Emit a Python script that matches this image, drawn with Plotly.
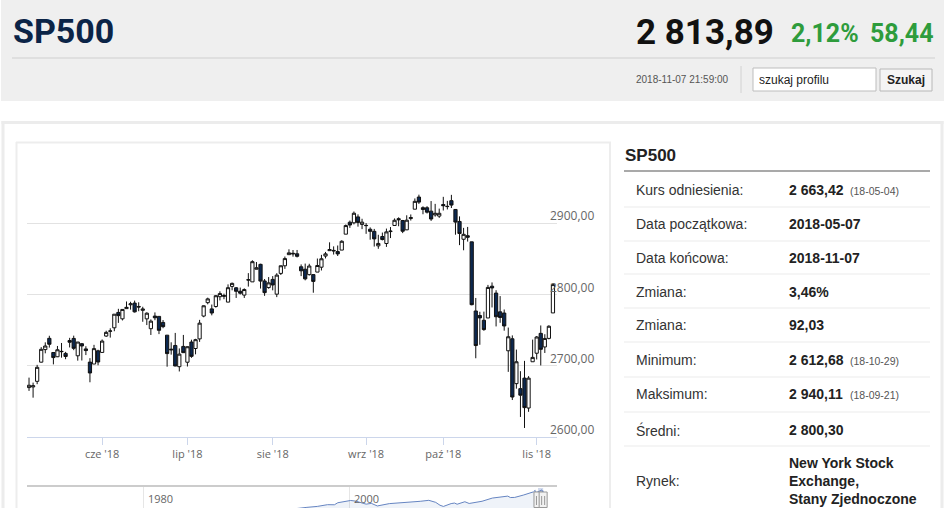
import plotly.graph_objects as go

W, H = 945, 508

# ---------------- data ----------------
dates = [
    "2018-05-07", "2018-05-08", "2018-05-09", "2018-05-10", "2018-05-11",
    "2018-05-14", "2018-05-15", "2018-05-16", "2018-05-17", "2018-05-18",
    "2018-05-21", "2018-05-22", "2018-05-23", "2018-05-24", "2018-05-25",
    "2018-05-29", "2018-05-30", "2018-05-31",
    "2018-06-01", "2018-06-04", "2018-06-05", "2018-06-06", "2018-06-07",
    "2018-06-08", "2018-06-11", "2018-06-12", "2018-06-13", "2018-06-14",
    "2018-06-15", "2018-06-18", "2018-06-19", "2018-06-20", "2018-06-21",
    "2018-06-22", "2018-06-25", "2018-06-26", "2018-06-27", "2018-06-28",
    "2018-06-29",
    "2018-07-02", "2018-07-03", "2018-07-05", "2018-07-06", "2018-07-09",
    "2018-07-10", "2018-07-11", "2018-07-12", "2018-07-13", "2018-07-16",
    "2018-07-17", "2018-07-18", "2018-07-19", "2018-07-20", "2018-07-23",
    "2018-07-24", "2018-07-25", "2018-07-26", "2018-07-27", "2018-07-30",
    "2018-07-31",
    "2018-08-01", "2018-08-02", "2018-08-03", "2018-08-06", "2018-08-07",
    "2018-08-08", "2018-08-09", "2018-08-10", "2018-08-13", "2018-08-14",
    "2018-08-15", "2018-08-16", "2018-08-17", "2018-08-20", "2018-08-21",
    "2018-08-22", "2018-08-23", "2018-08-24", "2018-08-27", "2018-08-28",
    "2018-08-29", "2018-08-30", "2018-08-31",
    "2018-09-04", "2018-09-05", "2018-09-06", "2018-09-07", "2018-09-10",
    "2018-09-11", "2018-09-12", "2018-09-13", "2018-09-14", "2018-09-17",
    "2018-09-18", "2018-09-19", "2018-09-20", "2018-09-21", "2018-09-24",
    "2018-09-25", "2018-09-26", "2018-09-27", "2018-09-28",
    "2018-10-01", "2018-10-02", "2018-10-03", "2018-10-04", "2018-10-05",
    "2018-10-08", "2018-10-09", "2018-10-10", "2018-10-11", "2018-10-12",
    "2018-10-15", "2018-10-16", "2018-10-17", "2018-10-18", "2018-10-19",
    "2018-10-22", "2018-10-23", "2018-10-24", "2018-10-25", "2018-10-26",
    "2018-10-29", "2018-10-30", "2018-10-31",
    "2018-11-01", "2018-11-02", "2018-11-05", "2018-11-06", "2018-11-07",
]

opens = [
    2669.36, 2670.26, 2678.12, 2705.02, 2722.70, 2738.47, 2718.59, 2712.62, 2719.71, 2717.35,
    2735.39, 2738.34, 2713.98, 2730.94, 2723.60, 2705.11, 2702.43, 2720.98,
    2718.70, 2741.67, 2748.46, 2753.25, 2774.84, 2765.84, 2780.18, 2785.60, 2787.94, 2783.21,
    2777.78, 2765.79, 2752.01, 2769.73, 2769.28, 2760.79, 2742.94, 2722.12, 2728.45, 2698.69,
    2727.13,
    2704.95, 2733.27, 2724.19, 2737.68, 2769.76, 2788.56, 2779.82, 2783.14, 2796.93, 2797.36,
    2789.34, 2811.35, 2809.37, 2804.55, 2799.17, 2820.68, 2817.73, 2835.49, 2842.35, 2819.00,
    2809.73,
    2821.17, 2800.48, 2829.62, 2840.29, 2855.92, 2856.79, 2857.19, 2838.90, 2835.46, 2827.88,
    2827.95, 2831.44, 2838.32, 2853.93, 2861.51, 2860.99, 2860.29, 2862.35, 2884.69, 2901.45,
    2900.62, 2908.94, 2898.37,
    2896.96, 2891.59, 2888.64, 2868.26, 2881.39, 2871.57, 2888.29, 2896.85, 2906.38, 2903.83,
    2890.74, 2906.60, 2919.73, 2936.76, 2921.83, 2921.75, 2916.98, 2911.65, 2910.03,
    2926.29, 2923.80, 2931.69, 2919.35, 2902.54, 2877.53, 2882.51, 2873.90, 2776.87, 2770.54,
    2763.83, 2767.05, 2811.67, 2802.00, 2775.66, 2773.94, 2721.03, 2737.87, 2674.88, 2667.86,
    2682.65, 2640.68, 2705.60,
    2717.58, 2745.45, 2726.37, 2738.40, 2774.13,
]

highs = [
    2683.35, 2676.34, 2701.27, 2726.11, 2732.86, 2742.10, 2718.59, 2727.76, 2731.96, 2719.50,
    2739.19, 2742.24, 2733.33, 2731.97, 2727.36, 2710.67, 2729.34, 2722.50,
    2736.93, 2749.16, 2752.61, 2772.39, 2779.90, 2779.39, 2790.21, 2789.80, 2791.47, 2789.06,
    2782.81, 2774.99, 2765.05, 2774.86, 2769.28, 2764.17, 2742.94, 2732.91, 2746.09, 2724.34,
    2743.26,
    2727.26, 2736.58, 2737.83, 2764.41, 2784.65, 2795.58, 2785.91, 2799.22, 2804.53, 2801.19,
    2814.19, 2816.76, 2810.47, 2809.70, 2808.61, 2829.99, 2848.03, 2845.57, 2843.17, 2821.74,
    2824.46,
    2825.83, 2829.91, 2840.38, 2853.29, 2863.43, 2862.44, 2862.48, 2842.20, 2843.40, 2843.11,
    2827.95, 2850.49, 2855.63, 2859.76, 2873.23, 2867.54, 2868.78, 2876.16, 2898.25, 2903.77,
    2916.50, 2912.46, 2906.32,
    2900.18, 2894.21, 2892.05, 2883.81, 2886.93, 2892.52, 2894.65, 2906.76, 2908.30, 2904.65,
    2911.17, 2912.36, 2934.80, 2940.11, 2923.79, 2923.95, 2931.15, 2927.22, 2920.53,
    2937.06, 2931.42, 2939.86, 2919.78, 2909.64, 2893.53, 2894.83, 2874.02, 2795.14, 2775.77,
    2775.99, 2813.46, 2816.94, 2806.04, 2797.77, 2778.94, 2753.59, 2742.59, 2722.70, 2692.38,
    2706.85, 2685.43, 2736.69,
    2741.67, 2756.55, 2744.27, 2756.82, 2815.15,
]

lows = [
    2664.70, 2655.20, 2674.14, 2704.54, 2717.45, 2725.47, 2701.91, 2712.17, 2711.36, 2709.18,
    2725.70, 2721.88, 2707.16, 2707.38, 2714.99, 2676.81, 2702.43, 2700.68,
    2718.70, 2740.54, 2739.51, 2748.46, 2760.16, 2763.59, 2780.17, 2778.78, 2774.65, 2776.52,
    2761.73, 2757.12, 2743.19, 2763.91, 2744.39, 2752.68, 2698.67, 2715.60, 2699.38, 2691.99,
    2718.03,
    2698.95, 2711.16, 2716.02, 2733.52, 2768.06, 2786.24, 2770.77, 2781.53, 2791.69, 2793.39,
    2789.24, 2805.89, 2795.14, 2800.01, 2795.14, 2811.12, 2817.73, 2835.26, 2808.34, 2798.11,
    2808.06,
    2805.85, 2796.34, 2827.37, 2835.98, 2855.92, 2853.09, 2851.98, 2825.81, 2819.88, 2826.58,
    2802.49, 2831.44, 2833.73, 2850.62, 2861.32, 2856.05, 2854.03, 2862.35, 2884.69, 2893.50,
    2898.40, 2895.22, 2891.73,
    2885.13, 2876.92, 2867.29, 2864.12, 2875.94, 2866.78, 2879.20, 2896.39, 2895.77, 2886.16,
    2890.43, 2903.82, 2919.73, 2927.11, 2912.63, 2913.70, 2903.28, 2909.27, 2907.50,
    2917.91, 2919.37, 2921.36, 2883.92, 2869.29, 2862.08, 2874.27, 2784.86, 2710.51, 2729.44,
    2749.03, 2766.91, 2781.81, 2755.18, 2760.27, 2749.22, 2691.43, 2651.89, 2667.84, 2628.16,
    2612.68, 2635.34, 2705.60,
    2708.85, 2700.44, 2717.94, 2737.08, 2774.13,
]

closes = [
    2672.63, 2671.92, 2697.79, 2723.07, 2727.72, 2730.13, 2711.45, 2722.46, 2720.13, 2712.97,
    2733.01, 2724.44, 2733.29, 2727.76, 2721.33, 2689.86, 2724.01, 2705.27,
    2734.62, 2746.87, 2748.80, 2772.35, 2770.37, 2779.03, 2782.00, 2786.85, 2775.63, 2782.49,
    2779.66, 2773.75, 2762.59, 2767.32, 2749.76, 2754.88, 2717.07, 2723.06, 2699.63, 2716.31,
    2718.37,
    2726.71, 2713.22, 2736.61, 2759.82, 2784.17, 2793.84, 2774.02, 2798.29, 2801.31, 2798.43,
    2809.55, 2815.62, 2804.49, 2801.83, 2806.98, 2820.40, 2846.07, 2837.44, 2818.82, 2802.60,
    2816.29,
    2813.36, 2827.22, 2840.35, 2850.40, 2858.45, 2857.70, 2853.58, 2833.28, 2821.93, 2839.96,
    2818.37, 2840.69, 2850.13, 2857.05, 2862.96, 2861.82, 2856.98, 2874.69, 2896.74, 2897.52,
    2914.04, 2901.13, 2901.52,
    2896.72, 2888.60, 2878.05, 2871.68, 2877.13, 2887.89, 2888.92, 2904.18, 2904.98, 2888.80,
    2904.31, 2907.95, 2930.75, 2929.67, 2919.37, 2915.56, 2905.97, 2914.00, 2913.98,
    2924.59, 2923.43, 2925.51, 2901.61, 2885.57, 2884.43, 2880.34, 2785.68, 2728.37, 2767.13,
    2750.79, 2809.92, 2809.21, 2768.78, 2767.78, 2755.88, 2740.69, 2656.10, 2705.57, 2658.69,
    2641.25, 2682.63, 2711.74,
    2740.37, 2723.06, 2738.31, 2755.45, 2813.89,
]

holidays = ["2018-05-28", "2018-07-04", "2018-09-03"]

month_ticks = ["2018-06-01", "2018-07-02", "2018-08-01", "2018-09-04", "2018-10-01", "2018-11-01"]
month_labels = ["cze '18", "lip '18", "sie '18", "wrz '18", "paź '18", "lis '18"]

price_ticks = [2600, 2700, 2800, 2900, 3000]
price_labels = ["2600,00", "2700,00", "2800,00", "2900,00", ""]

# navigator (long history)
nav_dates = [
    "1969-01-01", "1970-06-01", "1971-01-01", "1972-12-01", "1974-10-01", "1976-12-01",
    "1978-03-01", "1980-12-01", "1982-08-01", "1983-10-01", "1984-07-01", "1985-12-01",
    "1987-08-01", "1987-12-01", "1989-12-01", "1990-10-01", "1991-12-01", "1993-12-01",
    "1994-12-01", "1995-12-01", "1996-12-01", "1997-12-01", "1998-08-01", "1998-12-01",
    "1999-12-01", "2000-03-01", "2000-09-01", "2001-09-01", "2002-03-01", "2002-10-01",
    "2003-12-01", "2004-12-01", "2005-12-01", "2006-12-01", "2007-10-01", "2008-06-01",
    "2008-11-01", "2009-03-01", "2009-12-01", "2010-04-01", "2010-07-01", "2010-12-01",
    "2011-04-01", "2011-09-01", "2012-12-01", "2013-12-01", "2014-12-01", "2015-06-01",
    "2015-09-01", "2016-02-01", "2016-12-01", "2017-12-01", "2018-01-26", "2018-02-08",
    "2018-05-07", "2018-09-21", "2018-10-29", "2018-11-07",
]
nav_values = [
    103, 75, 92, 118, 63, 107,
    87, 136, 103, 170, 150, 211,
    330, 247, 353, 300, 417, 466,
    459, 616, 741, 970, 957, 1229,
    1469, 1527, 1436, 1040, 1150, 800,
    1112, 1212, 1248, 1418, 1549, 1280,
    896, 735, 1115, 1187, 1030, 1258,
    1360, 1131, 1426, 1848, 2059, 2107,
    1920, 1932, 2239, 2674, 2873, 2581,
    2673, 2930, 2641, 2814,
]
nav_ticks = ["1980-01-01", "2000-01-01"]
nav_labels = ["1980", "2000"]

# header + info table
title = "SP500"
last_price = "2 813,89"
change_pct = "2,12%"
change_abs = "58,44"
timestamp = "2018-11-07 21:59:00"

table_labels = ["Kurs odniesienia:", "Data początkowa:", "Data końcowa:", "Zmiana:",
                "Zmiana:", "Minimum:", "Maksimum:", "Średni:", "Rynek:"]
table_values = ["2 663,42", "2018-05-07", "2018-11-07", "3,46%", "92,03",
                "2 612,68", "2 940,11", "2 800,30",
                "New York Stock<br>Exchange,<br>Stany Zjednoczone"]
table_notes = ["(18-05-04)", "", "", "", "", "(18-10-29)", "(18-09-21)", "", ""]


# ---------------- helpers (pixel -> paper) ----------------
def X(x):
    return x / W


def Y(y):
    return 1 - y / H


def hline(x0, x1, y, color, width=1):
    return dict(type="line", xref="paper", yref="paper", x0=X(x0), x1=X(x1), y0=Y(y), y1=Y(y),
                line=dict(color=color, width=width))


def vline(x, y0, y1, color, width=1):
    return dict(type="line", xref="paper", yref="paper", x0=X(x), x1=X(x), y0=Y(y0), y1=Y(y1),
                line=dict(color=color, width=width))


fig = go.Figure()

fig.add_trace(go.Candlestick(
    x=dates, open=opens, high=highs, low=lows, close=closes,
    increasing=dict(line=dict(color="#111111", width=1), fillcolor="#ffffff"),
    decreasing=dict(line=dict(color="#111111", width=1), fillcolor="#0c2850"),
    whiskerwidth=0, xaxis="x", yaxis="y", name="SP500", showlegend=False,
))

fig.add_trace(go.Scatter(
    x=nav_dates, y=nav_values, mode="lines", fill="tozeroy",
    line=dict(color="#6685c2", width=1), fillcolor="rgba(102,133,194,0.10)",
    xaxis="x2", yaxis="y2", showlegend=False, hoverinfo="skip",
))

shapes = []
# header background
shapes.append(dict(type="rect", xref="paper", yref="paper", x0=X(1), x1=X(944), y0=Y(101), y1=Y(0),
                   fillcolor="#efefef", line=dict(width=0), layer="below"))
shapes.append(hline(12, 935, 58, "#cfcfcf"))
shapes.append(vline(741, 66, 93, "#d2d2d2"))
# search input and button
shapes.append(dict(type="rect", xref="paper", yref="paper", x0=X(753), x1=X(876), y0=Y(91), y1=Y(68),
                   fillcolor="#ffffff", line=dict(color="#bdbdbd", width=1)))
shapes.append(dict(type="rect", xref="paper", yref="paper", x0=X(880), x1=X(932), y0=Y(91), y1=Y(69),
                   fillcolor="#f4f4f4", line=dict(color="#b8b8b8", width=1)))
# outer panel (open at the bottom edge)
shapes.append(hline(1.5, 943.5, 122.5, "#ececec", 3))
shapes.append(vline(3, 121, 508, "#ececec", 3))
shapes.append(vline(942, 121, 508, "#ececec", 3))
# chart box
shapes.append(hline(16, 611, 142.5, "#ededed", 2))
shapes.append(vline(16.5, 142, 508, "#ededed", 2))
shapes.append(vline(610, 142, 508, "#ededed", 2))
# right panel underline + row separators
shapes.append(hline(624, 930, 171, "#8c8c8c", 1.5))
for sy in [207, 241, 274, 308, 342, 377, 412, 446]:
    shapes.append(hline(624, 930, sy, "#ebebeb"))
# navigator selection mask and handles
shapes.append(dict(type="rect", xref="x2", yref="paper", x0=dates[0], x1=dates[-1], y0=0, y1=Y(488),
                   fillcolor="rgba(102,133,194,0.3)", line=dict(width=0)))
for anchor in [dates[0], dates[-1]]:
    shapes.append(dict(type="rect", xref="x2", yref="paper", xsizemode="pixel", xanchor=anchor,
                       x0=-4, x1=4, y0=Y(507.5), y1=Y(492),
                       fillcolor="#f2f2f2", line=dict(color="#999999", width=1)))
    for dx in [-1.5, 1.5]:
        shapes.append(dict(type="line", xref="x2", yref="paper", xsizemode="pixel", xanchor=anchor,
                           x0=dx, x1=dx, y0=Y(505), y1=Y(496),
                           line=dict(color="#999999", width=1)))

ann = []
ann.append(dict(text=title, x=X(11), y=Y(31), xref="paper", yref="paper", xanchor="left", yanchor="middle",
                showarrow=False, font=dict(family="Roboto", size=34, color="#0b2447", weight="bold")))
ann.append(dict(text=change_abs, x=X(936), y=Y(34), xref="paper", yref="paper", xanchor="right", yanchor="middle",
                showarrow=False, font=dict(family="Roboto", size=25, color="#2e9c3c", weight="bold")))
ann.append(dict(text=change_pct, x=X(861), y=Y(34), xref="paper", yref="paper", xanchor="right", yanchor="middle",
                showarrow=False, font=dict(family="Roboto", size=25, color="#2e9c3c", weight="bold")))
ann.append(dict(text=last_price, x=X(776), y=Y(32), xref="paper", yref="paper", xanchor="right", yanchor="middle",
                showarrow=False, font=dict(family="Roboto", size=35, color="#111111", weight="bold")))
ann.append(dict(text=timestamp, x=X(731), y=Y(79.5), xref="paper", yref="paper", xanchor="right", yanchor="middle",
                showarrow=False, font=dict(family="Liberation Sans", size=10, color="#555555")))
ann.append(dict(text="szukaj profilu", x=X(757), y=Y(80), xref="paper", yref="paper", xanchor="left",
                yanchor="middle", showarrow=False,
                font=dict(family="Liberation Sans", size=12, color="#222222")))
ann.append(dict(text="Szukaj", x=X(906), y=Y(80), xref="paper", yref="paper", xanchor="center",
                yanchor="middle", showarrow=False,
                font=dict(family="Liberation Sans", size=12, color="#222222", weight="bold")))

# right panel
ann.append(dict(text=title, x=X(623), y=Y(155), xref="paper", yref="paper", xanchor="left", yanchor="middle",
                showarrow=False, font=dict(family="Liberation Sans", size=17, color="#222222", weight="bold")))
row_y = [190, 224, 258, 292, 325, 360, 394, 430, 481]
for lab, val, note, ry in zip(table_labels, table_values, table_notes, row_y):
    ann.append(dict(text=lab, x=X(634), y=Y(ry), xref="paper", yref="paper", xanchor="left", yanchor="middle",
                    showarrow=False, font=dict(family="Liberation Sans", size=14, color="#333333")))
    ann.append(dict(text=val, x=X(787), y=Y(ry), xref="paper", yref="paper", xanchor="left", yanchor="middle",
                    showarrow=False, align="left",
                    font=dict(family="Liberation Sans", size=14, color="#222222", weight="bold")))
    if note:
        ann.append(dict(text=note, x=X(848), y=Y(ry + 1), xref="paper", yref="paper", xanchor="left",
                        yanchor="middle", showarrow=False,
                        font=dict(family="Liberation Sans", size=10.5, color="#555555")))

# navigator year labels
for t, lab in zip(nav_ticks, nav_labels):
    ann.append(dict(text=lab, x=t, xref="x2", xanchor="left", xshift=3, y=Y(507.5), yref="paper",
                    yanchor="bottom", showarrow=False,
                    font=dict(family="Open Sans", size=11, color="#666666")))

fig.update_layout(
    width=W, height=H,
    margin=dict(l=0, r=0, t=0, b=0),
    paper_bgcolor="#ffffff",
    plot_bgcolor="rgba(0,0,0,0)",
    showlegend=False,
    boxgap=0.1,
    boxgroupgap=0.12,
    shapes=shapes,
    annotations=ann,
    xaxis=dict(
        domain=[X(27), X(557)], anchor="y", type="date",
        range=["2018-05-04 12:00", "2018-11-08 00:00"],
        rangebreaks=[dict(bounds=["sat", "mon"]), dict(values=holidays)],
        rangeslider=dict(visible=False),
        tickmode="array", tickvals=month_ticks, ticktext=month_labels,
        ticks="outside", ticklen=7, tickcolor="#ccd6eb", tickwidth=1,
        showline=True, linecolor="#ccd6eb", linewidth=1,
        showgrid=False, zeroline=False,
        tickfont=dict(family="Open Sans", size=11, color="#666666"),
        fixedrange=True,
    ),
    yaxis=dict(
        domain=[Y(437), Y(152)], anchor="x", side="right",
        range=[2600, 3000],
        tickmode="array", tickvals=price_ticks, ticktext=price_labels,
        ticks="", showgrid=True, gridcolor="#e2e2e2", gridwidth=1,
        showline=False, zeroline=False,
        ticklabelstandoff=-8, ticklabelshift=-7,
        tickfont=dict(family="Open Sans", size=12, color="#666666"),
        fixedrange=True,
    ),
    xaxis2=dict(
        domain=[X(27), X(557)], anchor="y2", type="date", side="top",
        range=["1968-09-26", "2020-03-12"],
        tickmode="array", tickvals=nav_ticks, showticklabels=False, ticks="",
        showgrid=True, gridcolor="#e6e6e6", gridwidth=1,
        showline=True, linecolor="#cccccc", linewidth=2, zeroline=False,
        fixedrange=True,
    ),
    yaxis2=dict(
        domain=[0, Y(487)], anchor="x2", range=[530, 3316],
        visible=False, fixedrange=True,
    ),
)

fig.write_html(
    "out.html",
    config={"displayModeBar": False},
    post_script="document.body.style.margin='0';document.body.style.overflow='hidden';",
)
